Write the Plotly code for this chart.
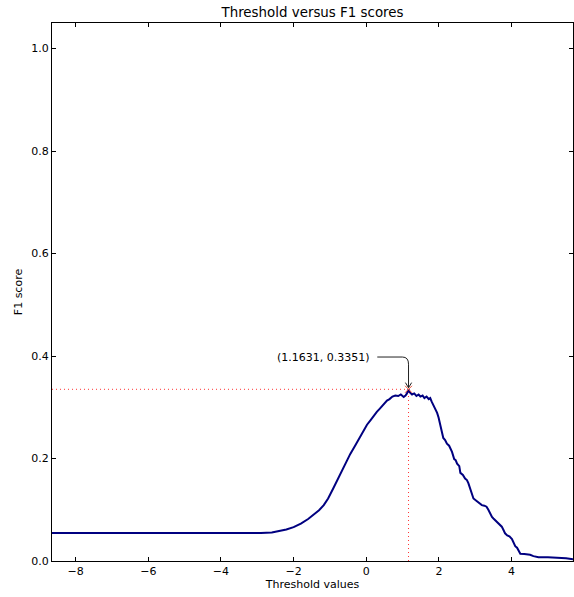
import plotly.graph_objects as go

# Threshold sweep and the F1 score obtained at each threshold
thresholds = [
    -8.65, -7.0, -5.5, -4.2, -3.8, -3.5, -3.2, -2.9, -2.6, -2.4, -2.2, -2.0,
    -1.8, -1.6, -1.45, -1.3, -1.17, -1.05, -0.9, -0.78, -0.62, -0.52, -0.44,
    -0.3, -0.17, -0.05, 0.02, 0.12, 0.2, 0.29, 0.38, 0.47, 0.57, 0.64, 0.72,
    0.8, 0.88, 0.95, 1.03, 1.08, 1.12, 1.1631, 1.2, 1.26, 1.32, 1.38, 1.44,
    1.49, 1.55, 1.6, 1.66, 1.72, 1.76, 1.8, 1.85, 1.9, 1.95, 1.99, 2.04, 2.08,
    2.12, 2.17, 2.22, 2.28, 2.33, 2.36, 2.42, 2.46, 2.5, 2.56, 2.59, 2.66,
    2.72, 2.77, 2.81, 2.86, 2.9, 2.95, 3.02, 3.08, 3.13, 3.18, 3.25, 3.31,
    3.36, 3.42, 3.46, 3.5, 3.57, 3.63, 3.68, 3.73, 3.78, 3.82, 3.88, 3.94,
    4.01, 4.06, 4.1, 4.15, 4.19, 4.24, 4.35, 4.51, 4.6, 4.74, 5.0, 5.25, 5.5,
    5.69,
]
f1_scores = [
    0.0546, 0.0547, 0.0548, 0.0548, 0.0544, 0.0541, 0.0540, 0.0545, 0.0556,
    0.058, 0.0615, 0.066, 0.073, 0.082, 0.090, 0.099, 0.109, 0.122, 0.143,
    0.160, 0.184, 0.198, 0.209, 0.226, 0.243, 0.257, 0.266, 0.275, 0.283,
    0.291, 0.298, 0.305, 0.313, 0.316, 0.321, 0.323, 0.322, 0.325, 0.320,
    0.323, 0.327, 0.3351, 0.329, 0.325, 0.327, 0.322, 0.325, 0.321, 0.323,
    0.318, 0.321, 0.316, 0.318, 0.311, 0.304, 0.296, 0.289, 0.280, 0.262,
    0.249, 0.240, 0.236, 0.229, 0.225, 0.217, 0.213, 0.199, 0.197, 0.190,
    0.185, 0.172, 0.168, 0.161, 0.158, 0.152, 0.140, 0.130, 0.122, 0.118,
    0.115, 0.112, 0.109, 0.108, 0.106, 0.100, 0.090, 0.086, 0.083, 0.078,
    0.073, 0.069, 0.067, 0.060, 0.054, 0.050, 0.048, 0.043, 0.035, 0.029,
    0.026, 0.020, 0.014, 0.0135, 0.012, 0.0095, 0.0075, 0.0073, 0.0068,
    0.0055, 0.0035,
]

# Best threshold and its score
best_threshold = 1.1631
best_f1 = 0.3351

x_ticks = [-8, -6, -4, -2, 0, 2, 4]
y_ticks = [0.0, 0.2, 0.4, 0.6, 0.8, 1.0]
y_limits = [0.0, 1.05]

FONT = "DejaVu Sans"
x_min, x_max = min(thresholds), max(thresholds)

fig = go.Figure()
fig.add_trace(go.Scatter(
    x=thresholds, y=f1_scores, mode="lines",
    line=dict(color="#000080", width=2),
    hoverinfo="skip", showlegend=False,
))
fig.add_trace(go.Scatter(
    x=[best_threshold], y=[best_f1], mode="markers",
    marker=dict(symbol="x-thin-open", size=7, line=dict(color="red", width=1)),
    showlegend=False, hoverinfo="skip",
))

# Dotted guides from the best point to both axes
guide = dict(color="rgba(255,0,0,0.8)", width=1, dash="1px,3px")
fig.add_shape(type="line", xref="x", yref="y", x0=x_min, x1=best_threshold,
              y0=best_f1, y1=best_f1, line=guide, layer="below")
fig.add_shape(type="line", xref="x", yref="y", x0=best_threshold, x1=best_threshold,
              y0=0, y1=best_f1, line=guide, layer="below")

# Label for the best point with an elbow-shaped pointer
label_x = best_threshold - 1.0
label_y = best_f1 + 0.063
start_x = best_threshold - 0.86
bend_x = best_threshold - 0.17
bend_y = label_y - 0.014
tip_y = best_f1 + 0.003
arrow_line = dict(color="#222222", width=1)
fig.add_shape(
    type="path", xref="x", yref="y",
    path=(f"M {start_x},{label_y} L {bend_x},{label_y} "
          f"Q {best_threshold},{label_y} {best_threshold},{bend_y} "
          f"L {best_threshold},{tip_y}"),
    line=arrow_line,
)
fig.add_shape(
    type="path", xref="x", yref="y",
    path=(f"M {best_threshold - 0.085},{tip_y + 0.010} L {best_threshold},{tip_y} "
          f"L {best_threshold + 0.085},{tip_y + 0.010}"),
    line=arrow_line,
)
fig.add_annotation(
    x=label_x, y=label_y, xref="x", yref="y",
    text=f"({best_threshold:.4f}, {best_f1:.4f})",
    showarrow=False, xanchor="right", yanchor="middle",
    font=dict(family=FONT, size=11, color="black"),
)

axis_common = dict(
    showline=True, linecolor="black", linewidth=1, mirror="allticks",
    ticks="inside", ticklen=4, tickwidth=1, tickcolor="black",
    showgrid=False, zeroline=False,
    tickfont=dict(family=FONT, size=11, color="black"),
)

fig.update_layout(
    width=574, height=597,
    margin=dict(l=52, r=1, t=23, b=36),
    paper_bgcolor="white", plot_bgcolor="white",
    font=dict(family=FONT, color="black"),
    title=dict(
        text="Threshold versus F1 scores",
        font=dict(family=FONT, size=13.4, color="black"),
        x=0.5, xref="paper", xanchor="center",
        y=1 - 12 / 597, yref="container", yanchor="middle",
    ),
    xaxis=dict(
        range=[x_min, x_max], tickvals=x_ticks,
        title=dict(text="Threshold values", font=dict(family=FONT, size=11), standoff=2),
        **axis_common,
    ),
    yaxis=dict(
        range=y_limits, tickvals=y_ticks, tickformat=".1f",
        title=dict(text="F1 score", font=dict(family=FONT, size=11), standoff=6),
        **axis_common,
    ),
)

fig.write_html("out.html")
